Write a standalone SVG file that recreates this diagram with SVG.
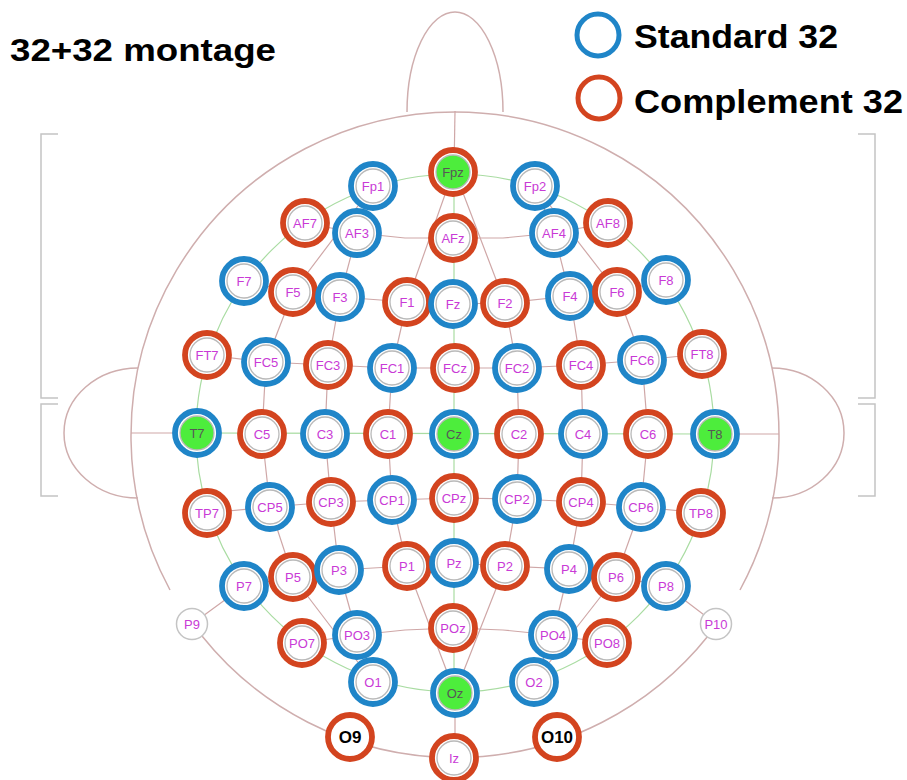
<svg xmlns="http://www.w3.org/2000/svg" width="907" height="780" viewBox="0 0 907 780">
<style>
.bg{fill:#fff}
.head{fill:none;stroke:#cfaeae;stroke-width:1.5}
.br{fill:none;stroke:#cfa7a7;stroke-width:1.2;stroke-linejoin:round}
.gr{fill:none;stroke:#a9dca2;stroke-width:1.2}
.brk{fill:none;stroke:#c4c4c4;stroke-width:1.5}
.s{fill:#fff;stroke:#1f85c8;stroke-width:5.8}
.c{fill:#fff;stroke:#d3441f;stroke-width:5.8}
.in{fill:none;stroke:#b9b9b9;stroke-width:1.3}
.ing{fill:#4ded3c;stroke:#b9b9b9;stroke-width:1.3}
.sm{fill:#fff;stroke:#c4c4c4;stroke-width:1.5}
.t{font-family:"Liberation Sans",Arial,sans-serif;font-size:13px;fill:#c93ad6;text-anchor:middle}
.tg{font-family:"Liberation Sans",Arial,sans-serif;font-size:13px;fill:#575757;text-anchor:middle}
.tb{font-family:"Liberation Sans",Arial,sans-serif;font-size:17px;font-weight:bold;fill:#000;text-anchor:middle}
.big{font-family:"Liberation Sans",Arial,sans-serif;font-weight:bold;fill:#000}
</style>
<rect class="bg" x="0" y="0" width="907" height="780"/>

<g id="title"><text class="big" x="10" y="61" font-size="32" textLength="266" lengthAdjust="spacingAndGlyphs">32+32 montage</text></g>
<g id="legend">
<circle cx="598" cy="35" r="21" fill="none" stroke="#1f85c8" stroke-width="5"/>
<text class="big" x="634" y="48" font-size="33" textLength="204" lengthAdjust="spacingAndGlyphs">Standard 32</text>
<circle cx="599" cy="98" r="21" fill="none" stroke="#d3441f" stroke-width="5"/>
<text class="big" x="634" y="113" font-size="33" textLength="269" lengthAdjust="spacingAndGlyphs">Complement 32</text>
</g>

<g id="brackets">
<polyline class="brk" points="58,134 41,134 41,398 58,398"/>
<polyline class="brk" points="58,404 41,404 41,496 58,496"/>
<polyline class="brk" points="858,134 875,134 875,398 858,398"/>
<polyline class="brk" points="858,404 875,404 875,496 858,496"/>
</g>

<g id="head">
<path class="head" d="M170,590 A324,324 0 1 1 740,590"/>
<path class="head" d="M202,636 A324,324 0 0 0 708,636"/>
<path class="head" d="M407,112 A48,100 0 0 1 503,112"/>
<path class="head" d="M138,368 A74,65 0 0 0 138,498"/>
<path class="head" d="M772,368 A72,65 0 0 1 772,498"/>
</g>

<g id="connectors">
<circle class="gr" cx="455" cy="433" r="259"/>
<line class="gr" x1="454" y1="172" x2="454" y2="693"/>
<line class="gr" x1="197" y1="433" x2="715" y2="434"/>
<line class="br" x1="455" y1="111" x2="454" y2="172"/>
<line class="br" x1="455" y1="693" x2="455" y2="758"/>
<line class="br" x1="131" y1="433" x2="197" y2="433"/>
<line class="br" x1="715" y1="434" x2="779" y2="434"/>
<polyline class="br" points="453,172 407,302 392,368 388,434 392,500 407,566 455,693"/>
<polyline class="br" points="455,172 505,303 517,368 519,434 517,499 505,566 455,693"/>
<polyline class="br" points="373,186 357,233 340,297 328,365 325,434 331,502 339,570 357,635 373,682"/>
<polyline class="br" points="535,186 554,233 570,296 581,365 583,434 581,502 569,569 553,635 534,682"/>
<polyline class="br" points="373,186 293,292 266,362 262,434 270,507 293,577 373,682"/>
<polyline class="br" points="535,186 617,292 642,360 648,434 641,507 616,577 534,682"/>
<polyline class="br" points="305,223 357,233 405,238 453,238 503,238 554,233 608,223"/>
<polyline class="br" points="244,281 293,292 340,297 407,302 453,304 505,303 570,296 617,292 666,280"/>
<polyline class="br" points="207,355 266,362 328,365 392,368 455,368 517,368 581,365 642,360 702,354"/>
<polyline class="br" points="207,513 270,507 331,502 392,500 454,498 517,499 581,502 641,507 701,513"/>
<polyline class="br" points="192,624 244,586 293,577 339,570 407,566 454,563 505,566 569,569 616,577 666,586 716,624"/>
<polyline class="br" points="302,643 357,635 405,630 453,628 503,630 553,635 607,643"/>
</g>

<g id="n-Fp1"><circle class="s" cx="373" cy="186" r="22"/><circle class="in" cx="373" cy="186" r="17"/><text class="t" x="373" y="190.5">Fp1</text></g>
<g id="n-Fpz"><circle class="c" cx="453" cy="172" r="22"/><circle class="ing" cx="453" cy="172" r="17"/><text class="tg" x="453" y="176.5">Fpz</text></g>
<g id="n-Fp2"><circle class="s" cx="535" cy="186" r="22"/><circle class="in" cx="535" cy="186" r="17"/><text class="t" x="535" y="190.5">Fp2</text></g>
<g id="n-AF7"><circle class="c" cx="305" cy="223" r="22"/><circle class="in" cx="305" cy="223" r="17"/><text class="t" x="305" y="227.5">AF7</text></g>
<g id="n-AF3"><circle class="s" cx="357" cy="233" r="22"/><circle class="in" cx="357" cy="233" r="17"/><text class="t" x="357" y="237.5">AF3</text></g>
<g id="n-AFz"><circle class="c" cx="453" cy="238" r="22"/><circle class="in" cx="453" cy="238" r="17"/><text class="t" x="453" y="242.5">AFz</text></g>
<g id="n-AF4"><circle class="s" cx="554" cy="233" r="22"/><circle class="in" cx="554" cy="233" r="17"/><text class="t" x="554" y="237.5">AF4</text></g>
<g id="n-AF8"><circle class="c" cx="608" cy="223" r="22"/><circle class="in" cx="608" cy="223" r="17"/><text class="t" x="608" y="227.5">AF8</text></g>
<g id="n-F7"><circle class="s" cx="244" cy="281" r="22"/><circle class="in" cx="244" cy="281" r="17"/><text class="t" x="244" y="285.5">F7</text></g>
<g id="n-F5"><circle class="c" cx="293" cy="292" r="22"/><circle class="in" cx="293" cy="292" r="17"/><text class="t" x="293" y="296.5">F5</text></g>
<g id="n-F3"><circle class="s" cx="340" cy="297" r="22"/><circle class="in" cx="340" cy="297" r="17"/><text class="t" x="340" y="301.5">F3</text></g>
<g id="n-F1"><circle class="c" cx="407" cy="302" r="22"/><circle class="in" cx="407" cy="302" r="17"/><text class="t" x="407" y="306.5">F1</text></g>
<g id="n-Fz"><circle class="s" cx="453" cy="304" r="22"/><circle class="in" cx="453" cy="304" r="17"/><text class="t" x="453" y="308.5">Fz</text></g>
<g id="n-F2"><circle class="c" cx="505" cy="303" r="22"/><circle class="in" cx="505" cy="303" r="17"/><text class="t" x="505" y="307.5">F2</text></g>
<g id="n-F4"><circle class="s" cx="570" cy="296" r="22"/><circle class="in" cx="570" cy="296" r="17"/><text class="t" x="570" y="300.5">F4</text></g>
<g id="n-F6"><circle class="c" cx="617" cy="292" r="22"/><circle class="in" cx="617" cy="292" r="17"/><text class="t" x="617" y="296.5">F6</text></g>
<g id="n-F8"><circle class="s" cx="666" cy="280" r="22"/><circle class="in" cx="666" cy="280" r="17"/><text class="t" x="666" y="284.5">F8</text></g>
<g id="n-FT7"><circle class="c" cx="207" cy="355" r="22"/><circle class="in" cx="207" cy="355" r="17"/><text class="t" x="207" y="359.5">FT7</text></g>
<g id="n-FC5"><circle class="s" cx="266" cy="362" r="22"/><circle class="in" cx="266" cy="362" r="17"/><text class="t" x="266" y="366.5">FC5</text></g>
<g id="n-FC3"><circle class="c" cx="328" cy="365" r="22"/><circle class="in" cx="328" cy="365" r="17"/><text class="t" x="328" y="369.5">FC3</text></g>
<g id="n-FC1"><circle class="s" cx="392" cy="368" r="22"/><circle class="in" cx="392" cy="368" r="17"/><text class="t" x="392" y="372.5">FC1</text></g>
<g id="n-FCz"><circle class="c" cx="455" cy="368" r="22"/><circle class="in" cx="455" cy="368" r="17"/><text class="t" x="455" y="372.5">FCz</text></g>
<g id="n-FC2"><circle class="s" cx="517" cy="368" r="22"/><circle class="in" cx="517" cy="368" r="17"/><text class="t" x="517" y="372.5">FC2</text></g>
<g id="n-FC4"><circle class="c" cx="581" cy="365" r="22"/><circle class="in" cx="581" cy="365" r="17"/><text class="t" x="581" y="369.5">FC4</text></g>
<g id="n-FC6"><circle class="s" cx="642" cy="360" r="22"/><circle class="in" cx="642" cy="360" r="17"/><text class="t" x="642" y="364.5">FC6</text></g>
<g id="n-FT8"><circle class="c" cx="702" cy="354" r="22"/><circle class="in" cx="702" cy="354" r="17"/><text class="t" x="702" y="358.5">FT8</text></g>
<g id="n-T7"><circle class="s" cx="197" cy="433" r="22"/><circle class="ing" cx="197" cy="433" r="17"/><text class="tg" x="197" y="437.5">T7</text></g>
<g id="n-C5"><circle class="c" cx="262" cy="434" r="22"/><circle class="in" cx="262" cy="434" r="17"/><text class="t" x="262" y="438.5">C5</text></g>
<g id="n-C3"><circle class="s" cx="325" cy="434" r="22"/><circle class="in" cx="325" cy="434" r="17"/><text class="t" x="325" y="438.5">C3</text></g>
<g id="n-C1"><circle class="c" cx="388" cy="434" r="22"/><circle class="in" cx="388" cy="434" r="17"/><text class="t" x="388" y="438.5">C1</text></g>
<g id="n-Cz"><circle class="s" cx="454" cy="434" r="22"/><circle class="ing" cx="454" cy="434" r="17"/><text class="tg" x="454" y="438.5">Cz</text></g>
<g id="n-C2"><circle class="c" cx="519" cy="434" r="22"/><circle class="in" cx="519" cy="434" r="17"/><text class="t" x="519" y="438.5">C2</text></g>
<g id="n-C4"><circle class="s" cx="583" cy="434" r="22"/><circle class="in" cx="583" cy="434" r="17"/><text class="t" x="583" y="438.5">C4</text></g>
<g id="n-C6"><circle class="c" cx="648" cy="434" r="22"/><circle class="in" cx="648" cy="434" r="17"/><text class="t" x="648" y="438.5">C6</text></g>
<g id="n-T8"><circle class="s" cx="715" cy="434" r="22"/><circle class="ing" cx="715" cy="434" r="17"/><text class="tg" x="715" y="438.5">T8</text></g>
<g id="n-TP7"><circle class="c" cx="207" cy="513" r="22"/><circle class="in" cx="207" cy="513" r="17"/><text class="t" x="207" y="517.5">TP7</text></g>
<g id="n-CP5"><circle class="s" cx="270" cy="507" r="22"/><circle class="in" cx="270" cy="507" r="17"/><text class="t" x="270" y="511.5">CP5</text></g>
<g id="n-CP3"><circle class="c" cx="331" cy="502" r="22"/><circle class="in" cx="331" cy="502" r="17"/><text class="t" x="331" y="506.5">CP3</text></g>
<g id="n-CP1"><circle class="s" cx="392" cy="500" r="22"/><circle class="in" cx="392" cy="500" r="17"/><text class="t" x="392" y="504.5">CP1</text></g>
<g id="n-CPz"><circle class="c" cx="454" cy="498" r="22"/><circle class="in" cx="454" cy="498" r="17"/><text class="t" x="454" y="502.5">CPz</text></g>
<g id="n-CP2"><circle class="s" cx="517" cy="499" r="22"/><circle class="in" cx="517" cy="499" r="17"/><text class="t" x="517" y="503.5">CP2</text></g>
<g id="n-CP4"><circle class="c" cx="581" cy="502" r="22"/><circle class="in" cx="581" cy="502" r="17"/><text class="t" x="581" y="506.5">CP4</text></g>
<g id="n-CP6"><circle class="s" cx="641" cy="507" r="22"/><circle class="in" cx="641" cy="507" r="17"/><text class="t" x="641" y="511.5">CP6</text></g>
<g id="n-TP8"><circle class="c" cx="701" cy="513" r="22"/><circle class="in" cx="701" cy="513" r="17"/><text class="t" x="701" y="517.5">TP8</text></g>
<g id="n-P9"><circle class="sm" cx="192" cy="624" r="15.5"/><text class="t" x="192" y="628.5">P9</text></g>
<g id="n-P7"><circle class="s" cx="244" cy="586" r="22"/><circle class="in" cx="244" cy="586" r="17"/><text class="t" x="244" y="590.5">P7</text></g>
<g id="n-P5"><circle class="c" cx="293" cy="577" r="22"/><circle class="in" cx="293" cy="577" r="17"/><text class="t" x="293" y="581.5">P5</text></g>
<g id="n-P3"><circle class="s" cx="339" cy="570" r="22"/><circle class="in" cx="339" cy="570" r="17"/><text class="t" x="339" y="574.5">P3</text></g>
<g id="n-P1"><circle class="c" cx="407" cy="566" r="22"/><circle class="in" cx="407" cy="566" r="17"/><text class="t" x="407" y="570.5">P1</text></g>
<g id="n-Pz"><circle class="s" cx="454" cy="563" r="22"/><circle class="in" cx="454" cy="563" r="17"/><text class="t" x="454" y="567.5">Pz</text></g>
<g id="n-P2"><circle class="c" cx="505" cy="566" r="22"/><circle class="in" cx="505" cy="566" r="17"/><text class="t" x="505" y="570.5">P2</text></g>
<g id="n-P4"><circle class="s" cx="569" cy="569" r="22"/><circle class="in" cx="569" cy="569" r="17"/><text class="t" x="569" y="573.5">P4</text></g>
<g id="n-P6"><circle class="c" cx="616" cy="577" r="22"/><circle class="in" cx="616" cy="577" r="17"/><text class="t" x="616" y="581.5">P6</text></g>
<g id="n-P8"><circle class="s" cx="666" cy="586" r="22"/><circle class="in" cx="666" cy="586" r="17"/><text class="t" x="666" y="590.5">P8</text></g>
<g id="n-P10"><circle class="sm" cx="716" cy="624" r="15.5"/><text class="t" x="716" y="628.5">P10</text></g>
<g id="n-PO7"><circle class="c" cx="302" cy="643" r="22"/><circle class="in" cx="302" cy="643" r="17"/><text class="t" x="302" y="647.5">PO7</text></g>
<g id="n-PO3"><circle class="s" cx="357" cy="635" r="22"/><circle class="in" cx="357" cy="635" r="17"/><text class="t" x="357" y="639.5">PO3</text></g>
<g id="n-POz"><circle class="c" cx="453" cy="628" r="22"/><circle class="in" cx="453" cy="628" r="17"/><text class="t" x="453" y="632.5">POz</text></g>
<g id="n-PO4"><circle class="s" cx="553" cy="635" r="22"/><circle class="in" cx="553" cy="635" r="17"/><text class="t" x="553" y="639.5">PO4</text></g>
<g id="n-PO8"><circle class="c" cx="607" cy="643" r="22"/><circle class="in" cx="607" cy="643" r="17"/><text class="t" x="607" y="647.5">PO8</text></g>
<g id="n-O1"><circle class="s" cx="373" cy="682" r="22"/><circle class="in" cx="373" cy="682" r="17"/><text class="t" x="373" y="686.5">O1</text></g>
<g id="n-Oz"><circle class="s" cx="455" cy="693" r="22"/><circle class="ing" cx="455" cy="693" r="17"/><text class="tg" x="455" y="697.5">Oz</text></g>
<g id="n-O2"><circle class="s" cx="534" cy="682" r="22"/><circle class="in" cx="534" cy="682" r="17"/><text class="t" x="534" y="686.5">O2</text></g>
<g id="n-O9"><circle class="c" cx="350" cy="737" r="22"/><text class="tb" x="350" y="743">O9</text></g>
<g id="n-Iz"><circle class="c" cx="454" cy="758" r="22"/><circle class="in" cx="454" cy="758" r="17"/><text class="t" x="454" y="762.5">Iz</text></g>
<g id="n-O10"><circle class="c" cx="557" cy="737" r="22"/><text class="tb" x="557" y="743">O10</text></g>
</svg>
